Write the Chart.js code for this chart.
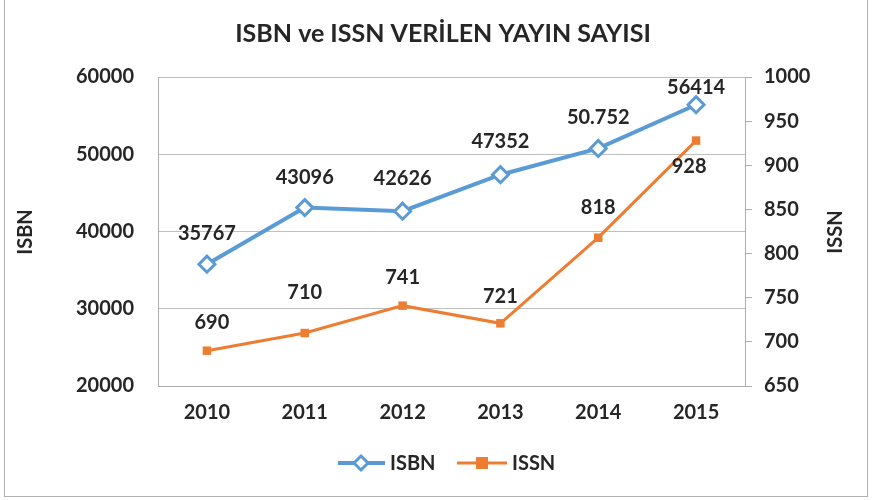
<!DOCTYPE html>
<html>
<head>
<meta charset="utf-8">
<script src="https://cdn.jsdelivr.net/npm/chart.js@4.4.1/dist/chart.umd.min.js"></script>
<style>
html,body{margin:0;padding:0;background:#fff;}
#wrap{position:absolute;left:0;top:0;width:872px;height:500px;}
</style>
</head>
<body>
<div id="wrap"><canvas id="c" width="872" height="500"></canvas></div>
<script>
const titleText = 'ISBN ve ISSN VERİLEN YAYIN SAYISI';
const years = ['2010', '2011', '2012', '2013', '2014', '2015'];
const isbnValues = [35767, 43096, 42626, 47352, 50752, 56414];
const isbnLabels = ['35767', '43096', '42626', '47352', '50.752', '56414'];
const issnValues = [690, 710, 741, 721, 818, 928];
const issnLabels = ['690', '710', '741', '721', '818', '928'];
const leftTicks = [20000, 30000, 40000, 50000, 60000];
const rightTicks = [650, 700, 750, 800, 850, 900, 950, 1000];

const BLUE = '#5B9BD5', ORANGE = '#ED7D31', TXT = '#262626';
const FONT = 'Lato, "Open Sans", sans-serif';

// label offsets (style, not data)
const isbnOff = [[0,-31],[0,-30],[0,-33],[0,-33],[0,-31],[0,-17]];
const issnOff = [[5,-28],[0,-40],[0,-28],[0,-27],[0,-30],[-7,26]];

const decor = {
  id: 'decor',
  afterDraw(chart) {
    const ctx = chart.ctx;
    ctx.save();
    // outer border
    ctx.strokeStyle = '#B0B0B0';
    ctx.lineWidth = 1;
    ctx.strokeRect(4.5, -1, 863, 497.5);
    // title
    ctx.fillStyle = TXT;
    ctx.font = 'bold 25px ' + FONT;
    ctx.textAlign = 'center';
    ctx.textBaseline = 'middle';
    ctx.fillText(titleText, 443, 34);
    // axis titles
    ctx.font = 'bold 20px ' + FONT;
    ctx.save(); ctx.translate(26, 232); ctx.rotate(-Math.PI/2); ctx.fillText('ISBN', 0, 0); ctx.restore();
    ctx.save(); ctx.translate(836, 232); ctx.rotate(-Math.PI/2); ctx.fillText('ISSN', 0, 0); ctx.restore();
    // data labels
    const drawLabels = (di, labels, off) => {
      const meta = chart.getDatasetMeta(di);
      meta.data.forEach((p, i) => {
        ctx.fillText(labels[i], p.x + off[i][0], p.y + off[i][1]);
      });
    };
    ctx.font = 'bold 20px ' + FONT;
    drawLabels(0, isbnLabels, isbnOff);
    drawLabels(1, issnLabels, issnOff);
    // legend
    const ly = 463;
    ctx.lineWidth = 4; ctx.strokeStyle = BLUE;
    ctx.beginPath(); ctx.moveTo(338, ly); ctx.lineTo(385, ly); ctx.stroke();
    ctx.fillStyle = '#fff'; ctx.lineWidth = 3;
    ctx.beginPath(); ctx.moveTo(361, ly-7); ctx.lineTo(368, ly); ctx.lineTo(361, ly+7); ctx.lineTo(354, ly); ctx.closePath(); ctx.fill(); ctx.stroke();
    ctx.lineWidth = 3; ctx.strokeStyle = ORANGE;
    ctx.beginPath(); ctx.moveTo(457, ly); ctx.lineTo(507, ly); ctx.stroke();
    ctx.fillStyle = ORANGE; ctx.fillRect(476, ly-6, 12, 12);
    ctx.fillStyle = TXT; ctx.textAlign = 'left';
    ctx.font = 'bold 20px ' + FONT;
    ctx.fillText('ISBN', 390, ly+1);
    ctx.fillText('ISSN', 512, ly+1);
    ctx.restore();
  }
};

new Chart(document.getElementById('c'), {
  type: 'line',
  data: {
    labels: years,
    datasets: [
      { label: 'ISBN', data: isbnValues, yAxisID: 'y', borderColor: BLUE, backgroundColor: '#fff',
        borderWidth: 4, pointStyle: 'rectRot', pointRadius: 8, pointBorderWidth: 3, pointBackgroundColor: '#fff', pointBorderColor: BLUE, tension: 0 },
      { label: 'ISSN', data: issnValues, yAxisID: 'y1', borderColor: ORANGE, backgroundColor: ORANGE,
        borderWidth: 3, pointStyle: 'rect', pointRadius: 6, pointBorderWidth: 0, pointBackgroundColor: ORANGE, pointBorderColor: ORANGE, tension: 0 }
    ]
  },
  options: {
    responsive: false,
    animation: false,
    layout: { padding: { top: 77, bottom: 74, left: 0, right: 0 } },
    plugins: { legend: { display: false }, title: { display: false }, tooltip: { enabled: false } },
    scales: {
      x: {
        offset: true,
        grid: { display: false, drawTicks: false },
        border: { display: true, color: '#ADADAD', width: 1 },
        ticks: { color: TXT, font: { family: FONT, size: 20, weight: 'bold' }, padding: 15, maxRotation: 0 },
        afterFit(s) { s.height = 40; }
      },
      y: {
        position: 'left', min: 20000, max: 60000,
        afterBuildTicks(s) { s.ticks = leftTicks.map(v => ({ value: v })); },
        grid: { color: '#BFBFBF', drawTicks: false, lineWidth: 1 },
        border: { display: true, color: '#ADADAD', width: 1 },
        ticks: { color: TXT, font: { family: FONT, size: 20, weight: 'bold' }, padding: 24, callback: v => String(v) },
        afterFit(s) { s.width = 158; }
      },
      y1: {
        position: 'right', min: 650, max: 1000,
        afterBuildTicks(s) { s.ticks = rightTicks.map(v => ({ value: v })); },
        grid: { drawOnChartArea: false, drawTicks: true, tickLength: 7, color: '#ADADAD' },
        border: { display: true, color: '#ADADAD', width: 1 },
        ticks: { color: TXT, font: { family: FONT, size: 20, weight: 'bold' }, padding: 12, callback: v => String(v) },
        afterFit(s) { s.width = 127; }
      }
    }
  },
  plugins: [decor]
});
</script>
</body>
</html>
